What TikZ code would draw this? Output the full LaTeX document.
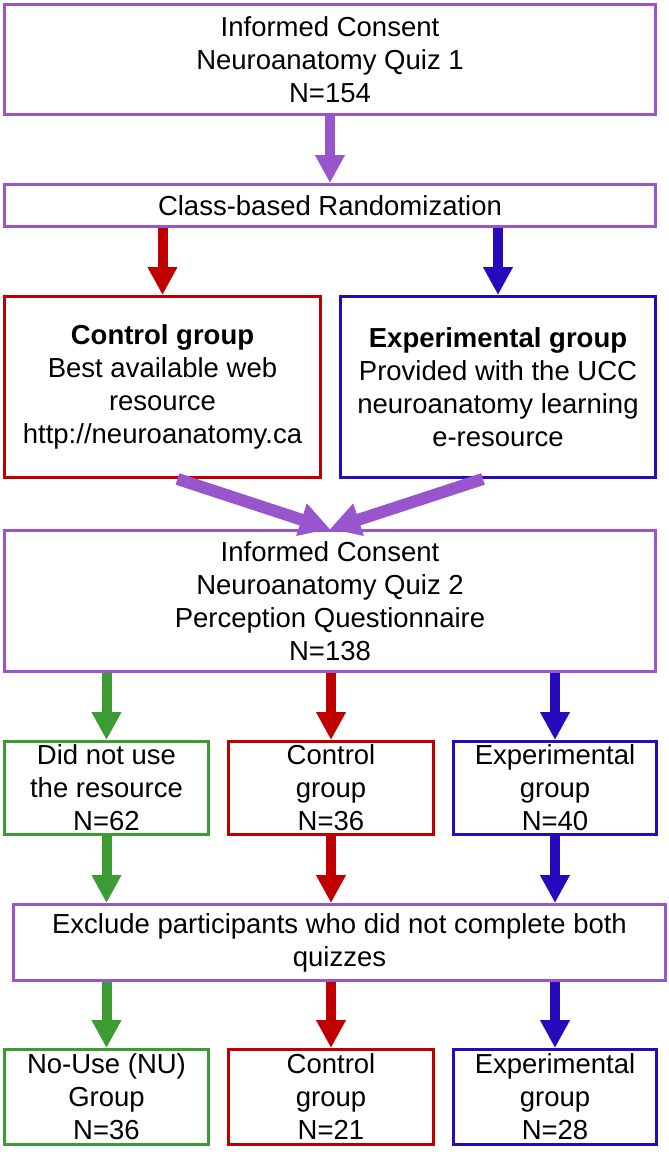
\documentclass[tikz,border=0pt]{standalone}
\usepackage{fontspec}
\setmainfont{Liberation Sans}
\usetikzlibrary{arrows.meta}
\definecolor{cpurple}{RGB}{153,85,204}
\definecolor{cred}{RGB}{192,0,0}
\definecolor{cblue}{RGB}{40,10,190}
\definecolor{cgreen}{RGB}{60,155,50}
\begin{document}
\begin{tikzpicture}[x=1pt,y=-1pt,
  bx/.style={draw, line width=3pt, align=center, inner sep=0pt,
    font=\fontsize{27.5}{33}\selectfont},
  arr/.style={line width=10pt, -{Triangle[width=28pt,length=28pt]}},
  darr/.style={line width=12pt, -{Triangle[width=32pt,length=30pt]}}]
\useasboundingbox (0,0) rectangle (669,1165);
% top
\node[bx, cpurple, text=black, minimum width=651pt, minimum height=110pt] (b1) at (330,59.5)
  {Informed Consent\\Neuroanatomy Quiz 1\\N=154};
\node[bx, cpurple, text=black, minimum width=651pt, minimum height=42pt] (rand) at (330,205.5)
  {Class-based Randomization};
\node[bx, cred, text=black, minimum width=316pt, minimum height=181pt] (ctrl) at (162.5,387)
  {\textbf{Control group}\\Best available web\\resource\\http://neuroanatomy.ca};
\node[bx, cblue, text=black, minimum width=315pt, minimum height=181pt] (exp) at (498,387)
  {\textbf{Experimental group}\\Provided with the UCC\\neuroanatomy learning\\e-resource};
\node[bx, cpurple, text=black, minimum width=651pt, minimum height=141pt] (b3) at (330,601)
  {Informed Consent\\Neuroanatomy Quiz 2\\Perception Questionnaire\\N=138};
% middle row
\node[bx, cgreen, text=black, minimum width=204pt, minimum height=93pt] (g1) at (106.5,788)
  {Did not use\\the resource\\N=62};
\node[bx, cred, text=black, minimum width=205pt, minimum height=93pt] (r1) at (331,788)
  {Control\\group\\N=36};
\node[bx, cblue, text=black, minimum width=203pt, minimum height=93pt] (u1) at (555,788)
  {Experimental\\group\\N=40};
\node[bx, cpurple, text=black, minimum width=652pt, minimum height=76pt] (ex) at (339.5,942.5)
  {Exclude participants who did not complete both\\quizzes};
% bottom row
\node[bx, cgreen, text=black, minimum width=204pt, minimum height=95pt] (g2) at (106.5,1097)
  {No-Use (NU)\\Group\\N=36};
\node[bx, cred, text=black, minimum width=205pt, minimum height=95pt] (r2) at (331,1097)
  {Control\\group\\N=21};
\node[bx, cblue, text=black, minimum width=203pt, minimum height=95pt] (u2) at (555,1097)
  {Experimental\\group\\N=28};
% arrows
\draw[arr, cpurple] (b1.south) -- (rand.north);
\draw[arr, cred] (rand.south -| ctrl.north) -- (ctrl.north);
\draw[arr, cblue] (rand.south -| exp.north) -- (exp.north);
\draw[darr, cpurple] ([xshift=15pt]ctrl.south) -- (b3.north);
\draw[darr, cpurple] ([xshift=-15pt]exp.south) -- (b3.north);
\draw[arr, cgreen] (b3.south -| g1.north) -- (g1.north);
\draw[arr, cred] (b3.south -| r1.north) -- (r1.north);
\draw[arr, cblue] (b3.south -| u1.north) -- (u1.north);
\draw[arr, cgreen] (g1.south) -- (ex.north -| g1.south);
\draw[arr, cred] (r1.south) -- (ex.north -| r1.south);
\draw[arr, cblue] (u1.south) -- (ex.north -| u1.south);
\draw[arr, cgreen] (ex.south -| g2.north) -- (g2.north);
\draw[arr, cred] (ex.south -| r2.north) -- (r2.north);
\draw[arr, cblue] (ex.south -| u2.north) -- (u2.north);
\end{tikzpicture}
\end{document}
